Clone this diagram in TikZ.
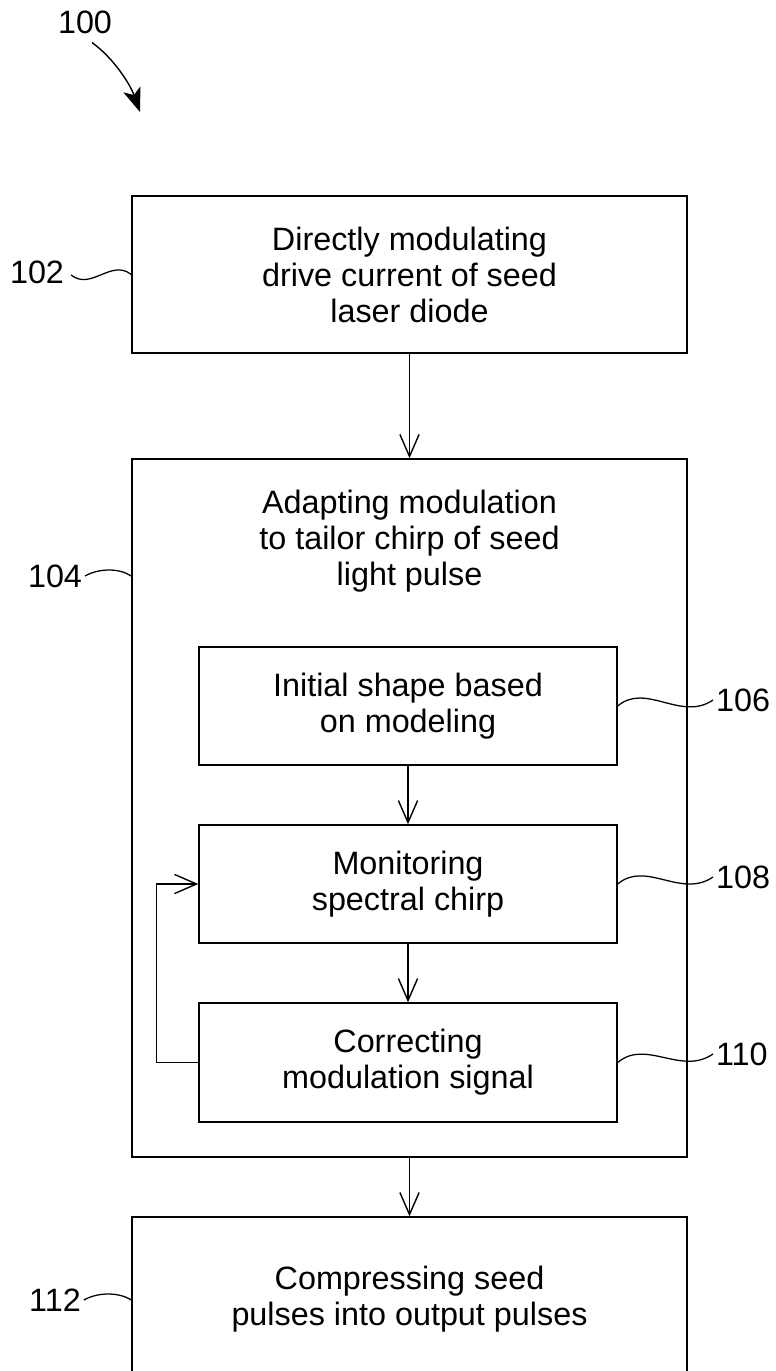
\documentclass[tikz,border=0pt]{standalone}
\usepackage{fontspec}
\setmainfont{Liberation Sans}
\usetikzlibrary{arrows.meta,positioning,calc}

\tikzset{
  box/.style={draw, line width=1pt, align=center, inner sep=0pt},
  outerbox/.style={box, minimum width=13.875cm},
  innerbox/.style={box, minimum width=10.45cm},
  reflabel/.style={inner sep=2pt},
  flow/.style={line width=1pt, -{Straight Barb[length=0.55cm,width=0.48cm]}},
  wave/.style={line width=0.9pt}
}

\begin{document}
\begin{tikzpicture}[x=0.025cm, y=-0.025cm, font=\fontsize{23}{25.6}\selectfont]
            \useasboundingbox (0,0) rectangle (775,1371);
            % main steps
            \node[outerbox, minimum height=3.925cm] (b102) at (409.5,274.5) {Directly modulating\\drive current of seed\\laser diode};
            \node[outerbox, minimum height=17.45cm] (b104) at (409.5,808) {};
            \node (t104) at (409.5,541) [align=center] {Adapting modulation\\to tailor chirp of seed\\light pulse};
            \node[innerbox, minimum height=2.95cm] (b106) at (408,706) {Initial shape based\\on modeling};
            \node[innerbox, minimum height=2.95cm] (b108) at (408,884) {Monitoring\\spectral chirp};
            \node[innerbox, minimum height=2.975cm] (b110) at (408,1062.5) {Correcting\\modulation signal};
            \node[outerbox, minimum height=4.1cm] (b112) at (409.5,1299) {Compressing seed\\pulses into output pulses};
            % flow
            \draw[flow] (b102.south) -- (b104.north);
            \draw[flow] (b106.south) -- (b108.north);
            \draw[flow] (b108.south) -- (b110.north);
            \draw[flow] (b104.south) -- (b112.north);
            \draw[flow] (b110.west) -- ++(-42,0) |- (b108.west);
            % reference numerals
            \node[reflabel] (l100) at (85,22) {100};
            \coordinate (c100) at (140,112);
            \draw[line width=1pt, -{Stealth[length=0.6cm,width=0.45cm,inset=0.15cm]}] (l100.south) ++(7,6) .. controls +(22,16) and +(-10,-28) .. (c100);
            \node[reflabel] (l102) at (37,272) {102};
            \draw[wave] (l102.east) ++(4,3) .. controls +(20,16) and +(-20,-16) .. (b102.west);
            \node[reflabel] (l104) at (55,576) {104};
            \draw[wave] (l104.east) .. controls +(14,-8) and +(-12,-8) .. (l104.east -| b104.west);
            \node[reflabel, anchor=west] (l106) at (713,700) {106};
            \draw[wave] (b106.east) .. controls +(28,-24) and +(-32,22) .. (l106.west);
            \node[reflabel, anchor=west] (l108) at (713,877) {108};
            \draw[wave] (b108.east) .. controls +(28,-24) and +(-32,22) .. (l108.west);
            \node[reflabel, anchor=west] (l110) at (713,1054) {110};
            \draw[wave] (b110.east) .. controls +(28,-24) and +(-32,22) .. (l110.west);
            \node[reflabel] (l112) at (55,1300) {112};
            \draw[wave] (l112.east) .. controls +(14,-8) and +(-12,-8) .. (l112.east -| b112.west);
        \end{tikzpicture}
\end{document}
